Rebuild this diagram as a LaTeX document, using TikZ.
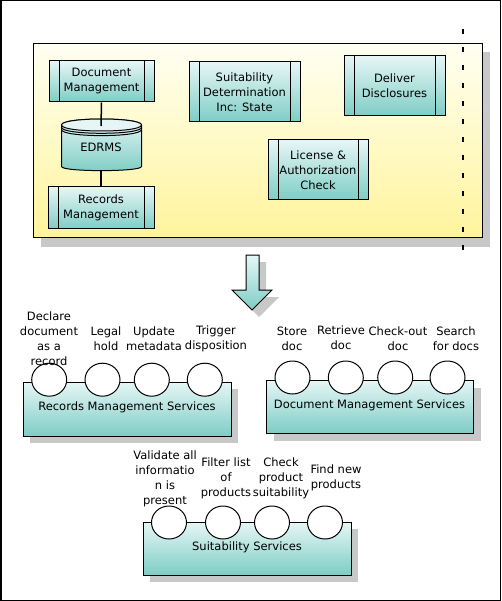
\documentclass[tikz,border=0pt]{standalone}
\usepackage{fontspec}
\setmainfont{DejaVu Sans}
\usetikzlibrary{shapes.geometric}
\definecolor{tealtop}{HTML}{E6F6F6}
\definecolor{tealbot}{HTML}{7ECDC5}
\definecolor{yeltop}{HTML}{FFFFF2}
\definecolor{yelbot}{HTML}{FFF49C}
\definecolor{shadowgray}{HTML}{C8C8C8}
\tikzset{
  lbl/.style={font=\fontsize{11.5}{15}\selectfont, align=center, inner sep=0pt},
  procbox/.style={draw, line width=1pt, top color=tealtop, bottom color=tealbot,
    lbl,
    path picture={\draw[line width=1pt]
      ([xshift=10pt]path picture bounding box.north west) -- ([xshift=10pt]path picture bounding box.south west)
      ([xshift=-10pt]path picture bounding box.north east) -- ([xshift=-10pt]path picture bounding box.south east);}},
  svcbox/.style={draw, line width=1pt, top color=tealtop, bottom color=tealbot, inner sep=0pt},
  shadowbox/.style={fill=shadowgray, draw=none, inner sep=0pt},
  svc/.style={ellipse, draw, line width=1pt, fill=white, minimum width=35pt, minimum height=33pt, inner sep=0pt},
  conn/.style={line width=1.5pt},
}
\begin{document}
\begin{tikzpicture}[x=1pt,y=-1pt]
\useasboundingbox (0,0) rectangle (501,601);
\fill[white] (0,0) rectangle (501,601);
\draw[line width=1.5pt] (0.75,0.75) rectangle (500.25,600.25);

% upper container
\node[shadowbox, minimum width=449pt, minimum height=194pt] at (265.5,149.5) {};
\node[draw, line width=1pt, top color=yeltop, bottom color=yelbot, inner sep=0pt,
      minimum width=449pt, minimum height=194pt] (cont) at (257.5,141) {};

% dashed boundary
\coordinate (dtop) at (463,29);
\coordinate (dbot) at (463,256);
\draw[line width=2pt, dash pattern=on 5pt off 13pt] (dtop) -- (dbot);

% process boxes
\node[procbox, minimum width=105pt, minimum height=41pt] (docm) at (101.5,81.5) {Document\\Management};
\node[procbox, minimum width=106pt, minimum height=42pt] (recm) at (101,208) {Records\\Management};
\node[procbox, minimum width=111pt, minimum height=60pt] (suit) at (244.5,92) {Suitability\\Determination\\Inc: State};
\node[procbox, minimum width=101pt, minimum height=60pt] (deliv) at (394.5,86) {Deliver\\Disclosures};
\node[procbox, minimum width=100pt, minimum height=60pt] (lic) at (318,170) {License \&\\Authorization\\Check};

% EDRMS cylinder
\path[draw, line width=1pt, top color=tealtop, bottom color=tealbot]
  (61.5,125) -- (61.5,166.5) .. controls (61.5,172) and (141.5,172) .. (141.5,166.5)
  -- (141.5,125) .. controls (141.5,117) and (61.5,117) .. (61.5,125) -- cycle;
\path[draw, line width=1pt, fill=tealtop]
  (61.5,125) .. controls (61.5,117) and (141.5,117) .. (141.5,125)
  .. controls (141.5,133) and (61.5,133) .. (61.5,125) -- cycle;
\draw[line width=1pt] (61.5,127.3) .. controls (61.5,135.3) and (141.5,135.3) .. (141.5,127.3);
\draw[line width=1pt] (61.5,129.6) .. controls (61.5,137.6) and (141.5,137.6) .. (141.5,129.6);
\node[lbl] (edrms) at (101,147) {EDRMS};
\coordinate (edrmstop) at (101,126);
\coordinate (edrmsbot) at (101,171);
\draw[conn] (docm.south) -- (edrmstop);
\draw[conn] (edrmsbot) -- (recm.north);

% block arrow
\fill[shadowgray] (253,262) -- (266,262) -- (266,297) -- (279,297) -- (259,317) -- (239,297) -- (253,297) -- cycle;
\path[draw, line width=1pt, top color=tealtop, bottom color=tealbot]
  (246,255) -- (259,255) -- (259,290) -- (272,290) -- (252,310) -- (232,290) -- (246,290) -- cycle;

% Records Management Services
\node[shadowbox, minimum width=208pt, minimum height=54pt] at (134,416) {};
\node[svcbox, minimum width=208pt, minimum height=54pt] (rms) at (127,409) {};
\node[lbl, anchor=center] (rmsl) at (127,407) {Records Management Services};
\node[svc] (r1) at (49.2,379.7) {};
\node[svc] (r2) at (102.5,379.7) {};
\node[svc] (r3) at (151.8,379.7) {};
\node[svc] (r4) at (204.8,379.7) {};
\node[lbl] (r1l) at (49,339) {Declare\\document\\as a\\record};
\node[lbl] (r2l) at (106,339) {Legal\\hold};
\node[lbl] (r3l) at (154,339) {Update\\metadata};
\node[lbl] (r4l) at (216,339) {Trigger\\disposition};

% Document Management Services
\node[shadowbox, minimum width=207pt, minimum height=53pt] at (377.5,414.5) {};
\node[svcbox, minimum width=207pt, minimum height=53pt] (dms) at (369.5,406.5) {};
\node[lbl] (dmsl) at (369.5,405) {Document Management Services};
\node[svc] (d1) at (292.5,377.5) {};
\node[svc] (d2) at (345.8,377.5) {};
\node[svc] (d3) at (395.2,377.5) {};
\node[svc] (d4) at (447.5,377.5) {};
\node[lbl] (d1l) at (292,339) {Store\\doc};
\node[lbl] (d2l) at (341,338) {Retrieve\\doc};
\node[lbl] (d3l) at (398,339) {Check-out\\doc};
\node[lbl] (d4l) at (456,339) {Search\\for docs};

% Suitability Services
\node[shadowbox, minimum width=208pt, minimum height=53pt] at (254,555.5) {};
\node[svcbox, minimum width=208pt, minimum height=53pt] (ss) at (247,548.5) {};
\node[lbl] (ssl) at (247,547) {Suitability Services};
\node[svc] (s1) at (169,522.5) {};
\node[svc] (s2) at (223,522.5) {};
\node[svc] (s3) at (272,522.5) {};
\node[svc] (s4) at (325,522.5) {};
\node[lbl] (s1l) at (165,478.5) {Validate all\\informatio\\n is\\present};
\node[lbl] (s2l) at (226,478) {Filter list\\of\\products};
\node[lbl] (s3l) at (281,478) {Check\\product\\suitability};
\node[lbl] (s4l) at (336,477.5) {Find new\\products};
\end{tikzpicture}
\end{document}
